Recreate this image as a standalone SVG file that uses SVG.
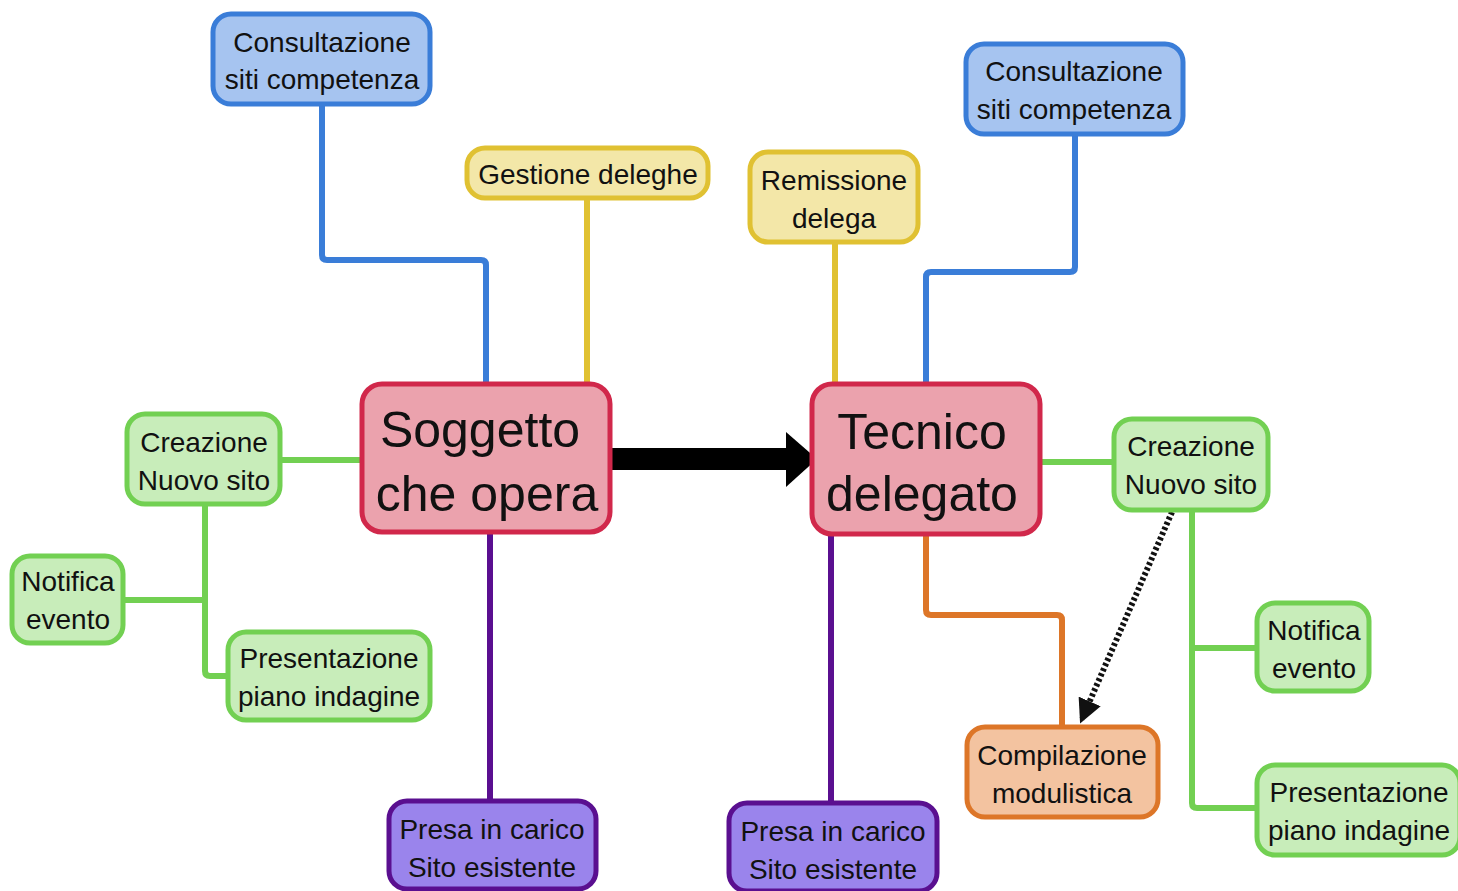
<svg xmlns="http://www.w3.org/2000/svg" width="1458" height="891" viewBox="0 0 1458 891">
<style>
text{font-family:"Liberation Sans",Arial,sans-serif;fill:#111;text-anchor:middle}
.s{font-size:28px}
.b{font-size:50px}
.n rect{stroke-width:5}
.blue rect{fill:#a6c4f0;stroke:#3a7dd8}
.yel rect{fill:#f3e7a8;stroke:#e0c132}
.red rect{fill:#eba2ad;stroke:#d1284b}
.grn rect{fill:#c8edba;stroke:#72d052}
.pur rect{fill:#9a84ec;stroke:#5a0f90}
.org rect{fill:#f3c3a0;stroke:#dd7628}
.c path{fill:none;stroke-width:6;stroke-linejoin:round}
.c path.thick{stroke-width:22;stroke-linejoin:miter}
</style>
<defs>
<marker id="ah" viewBox="0 0 10 10" refX="8" refY="5" markerWidth="4" markerHeight="4" orient="auto" markerUnits="strokeWidth">
<path d="M0,0 L10,5 L0,10 Z" fill="#111"/>
</marker>
</defs>
<rect width="1458" height="891" fill="#fff"/>
<g id="connectors" class="c">
<path d="M322,104 V255 Q322,260 327,260 H481 Q486,260 486,265 V384" stroke="#3a7dd8"/>
<path d="M587,198 V384" stroke="#e0c132"/>
<path d="M280,460 H362" stroke="#72d052"/>
<path d="M205,504 V671 Q205,676 210,676 H228 M205,600 H123" stroke="#72d052"/>
<path d="M490,532 V801" stroke="#5a0f90"/>
<path d="M835,242 V384" stroke="#e0c132"/>
<path d="M1075,134 V267 Q1075,272 1070,272 H931 Q926,272 926,277 V384" stroke="#3a7dd8"/>
<path d="M1040,462 H1114" stroke="#72d052"/>
<path d="M1192,510 V803 Q1192,808 1197,808 H1257 M1192,648 H1257" stroke="#72d052"/>
<path d="M831,534 V803" stroke="#5a0f90"/>
<path d="M926,534 V610 Q926,615 931,615 H1057 Q1062,615 1062,620 V727" stroke="#dd7628"/>
<path class="thick" d="M610,459 H790" stroke="#000"/>
<polygon points="786,432 817,459 786,487" fill="#000" stroke="none"/>
<path d="M1172,512 L1082,719" stroke="#111" stroke-dasharray="3,2.5" marker-end="url(#ah)"/>
</g>
<g id="n_consult_l" class="n blue"><rect x="213" y="14" width="217" height="90" rx="18"/><text class="s" x="322" y="52">Consultazione</text><text class="s" x="322" y="89">siti competenza</text></g>
<g id="n_gestione" class="n yel"><rect x="467" y="148" width="241" height="50" rx="18"/><text class="s" x="588" y="184">Gestione deleghe</text></g>
<g id="n_soggetto" class="n red"><rect x="362" y="384" width="248" height="148" rx="20"/><text class="b" x="480" y="447">Soggetto</text><text class="b" x="487" y="511">che opera</text></g>
<g id="n_creazione_l" class="n grn"><rect x="127" y="414" width="153" height="90" rx="18"/><text class="s" x="204" y="452">Creazione</text><text class="s" x="204" y="490">Nuovo sito</text></g>
<g id="n_notifica_l" class="n grn"><rect x="12" y="556" width="111" height="87" rx="18"/><text class="s" x="68" y="591">Notifica</text><text class="s" x="68" y="629">evento</text></g>
<g id="n_present_l" class="n grn"><rect x="228" y="632" width="202" height="88" rx="18"/><text class="s" x="329" y="668">Presentazione</text><text class="s" x="329" y="706">piano indagine</text></g>
<g id="n_presa_l" class="n pur"><rect x="389" y="801" width="207" height="88" rx="18"/><text class="s" x="492" y="839">Presa in carico</text><text class="s" x="492" y="877">Sito esistente</text></g>
<g id="n_tecnico" class="n red"><rect x="812" y="384" width="228" height="150" rx="20"/><text class="b" x="922" y="449">Tecnico</text><text class="b" x="922" y="511">delegato</text></g>
<g id="n_remissione" class="n yel"><rect x="750" y="152" width="168" height="90" rx="18"/><text class="s" x="834" y="190">Remissione</text><text class="s" x="834" y="228">delega</text></g>
<g id="n_consult_r" class="n blue"><rect x="966" y="44" width="217" height="90" rx="18"/><text class="s" x="1074" y="81">Consultazione</text><text class="s" x="1074" y="119">siti competenza</text></g>
<g id="n_creazione_r" class="n grn"><rect x="1114" y="419" width="154" height="91" rx="18"/><text class="s" x="1191" y="456">Creazione</text><text class="s" x="1191" y="494">Nuovo sito</text></g>
<g id="n_notifica_r" class="n grn"><rect x="1257" y="603" width="112" height="88" rx="18"/><text class="s" x="1314" y="640">Notifica</text><text class="s" x="1314" y="678">evento</text></g>
<g id="n_present_r" class="n grn"><rect x="1257" y="765" width="203" height="90" rx="18"/><text class="s" x="1359" y="802">Presentazione</text><text class="s" x="1359" y="840">piano indagine</text></g>
<g id="n_compilazione" class="n org"><rect x="967" y="727" width="191" height="90" rx="18"/><text class="s" x="1062" y="765">Compilazione</text><text class="s" x="1062" y="803">modulistica</text></g>
<g id="n_presa_r" class="n pur"><rect x="729" y="803" width="208" height="88" rx="18"/><text class="s" x="833" y="841">Presa in carico</text><text class="s" x="833" y="879">Sito esistente</text></g>
</svg>
